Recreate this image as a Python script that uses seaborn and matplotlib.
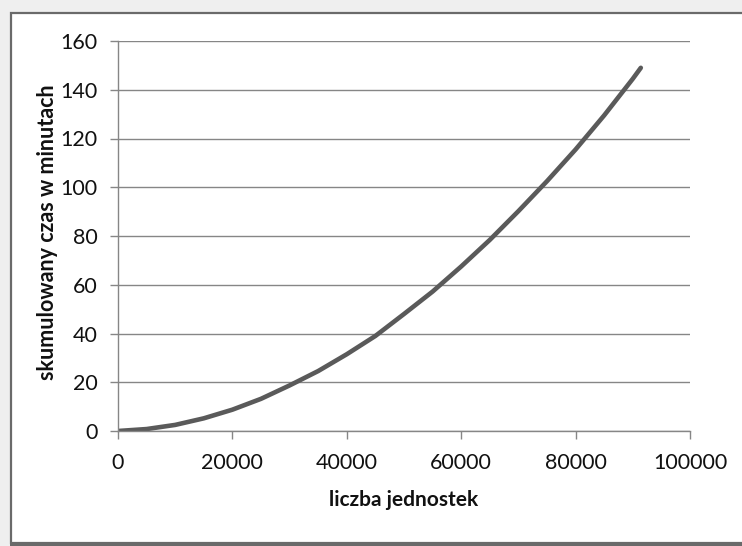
import matplotlib
matplotlib.use("Agg")
import matplotlib.pyplot as plt
import matplotlib.patches as mpatches
import seaborn as sns
import pandas as pd

# data
units = [0, 5000, 10000, 15000, 20000, 25000, 30000, 35000, 40000, 45000,
         50000, 55000, 60000, 65000, 70000, 75000, 80000, 85000, 90000, 91400]
minutes = [0, 0.8, 2.5, 5.2, 8.75, 13.2, 18.7, 24.6, 31.5, 39.0,
           48.0, 57.2, 67.5, 78.4, 90.2, 102.5, 115.5, 129.5, 144.5, 149.0]
x_ticks = [0, 20000, 40000, 60000, 80000, 100000]
y_ticks = [0, 20, 40, 60, 80, 100, 120, 140, 160]
x_label = "liczba jednostek"
y_label = "skumulowany czas w minutach"

df = pd.DataFrame({"units": units, "minutes": minutes})

sns.set_theme(style="white")
plt.rcParams["font.family"] = ["Lato", "DejaVu Sans"]

W, H = 742, 546
fig = plt.figure(figsize=(W / 100, H / 100), dpi=100)
fig.patch.set_facecolor("#efefef")

# background axes for the chart frame (pixel coordinates, y downwards)
bg = fig.add_axes([0, 0, 1, 1], zorder=-5)
bg.set_xlim(0, W)
bg.set_ylim(H, 0)
bg.axis("off")
bg.add_patch(mpatches.Rectangle((10.5, 12.5), W + 20, 530.5, facecolor="white",
                                edgecolor="#6a6a6a", linewidth=1.6))
bg.add_patch(mpatches.Rectangle((10, 543), W + 20, 5, facecolor="#6a6a6a",
                                edgecolor="none"))

ax = fig.add_axes([118 / W, 1 - 431 / H, (690 - 118) / W, (431 - 41) / H])
ax.set_facecolor("none")

sns.lineplot(data=df, x="units", y="minutes", ax=ax, color="#5a5a5a",
             linewidth=3.3, solid_capstyle="round")

ax.set_xlim(0, 100000)
ax.set_ylim(0, 160)
ax.set_xticks(x_ticks)
ax.set_yticks(y_ticks)
ax.set_xticklabels([str(t) for t in x_ticks])
ax.set_yticklabels([str(t) for t in y_ticks])

ax.grid(axis="y", color="#868686", linewidth=1.0)
ax.grid(axis="x", visible=False)
ax.set_axisbelow(True)
for s in ["top", "right"]:
    ax.spines[s].set_visible(False)
for s in ["left", "bottom"]:
    ax.spines[s].set_color("#868686")
    ax.spines[s].set_linewidth(1.0)

ax.tick_params(axis="both", which="major", direction="out", length=5.5,
               width=1.0, color="#868686", labelsize=15.5, labelcolor="#111111",
               left=True, bottom=True)
ax.tick_params(axis="y", pad=9)
ax.tick_params(axis="x", pad=10)

ax.set_xlabel(x_label, fontsize=15, fontweight="bold", color="#111111")
ax.set_ylabel(y_label, fontsize=15.5, fontweight="bold", color="#111111")
ax.xaxis.set_label_coords(0.5, -(500 - 431) / (431 - 41))
ax.yaxis.set_label_coords(-(118 - 48) / (690 - 118), 0.5 + 4 / 390)
ax.xaxis.label.set_va("center")
ax.yaxis.label.set_va("center")

fig.savefig("out.png", dpi=100, facecolor=fig.get_facecolor())
